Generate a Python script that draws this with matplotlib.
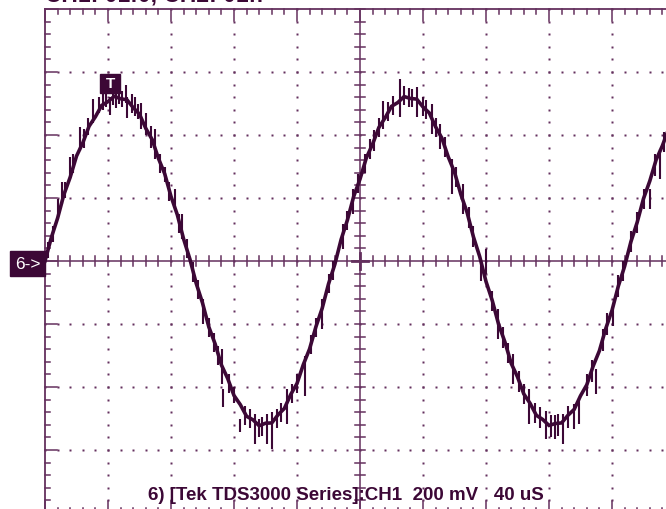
import matplotlib
matplotlib.use("Agg")
from matplotlib import pyplot as plt
from matplotlib.patches import Rectangle
import numpy as np

# scope settings
volts_per_div = 200.0   # mV
time_per_div = 40.0     # uS
sample_step = 4.0       # uS between samples

# trace values (mV), one every 4 uS starting at the left edge of the graticule
trace_mv = [
    0, 74, 136, 211, 266, 333, 375, 428, 458, 494,
    506, 523, 515, 512, 487, 466, 421, 386, 326, 277,
    205, 147, 70, 6, -71, -133, -209, -263, -330, -373,
    -427, -456, -493, -504, -523, -515, -514, -488, -468, -424,
    -389, -329, -279, -209, -150, -73, -11, 68, 130, 205,
    260, 327, 371, 424, 455, 491, 503, 522, 516, 514,
    489, 470, 426, 390, 331, 282, 212, 154, 77, 14,
    -65, -126, -201, -257, -325, -368, -422, -452, -490, -503,
    -522, -516, -514, -490, -471, -428, -393, -334, -285, -215,
    -157, -80, -17, 61, 123, 198, 254, 321, 366, 420,
]

# noise spikes seen on the trace: time (uS), low and high (mV)
spike_t = [8.3, 10.8, 15.9, 22.2, 30.5, 41.3, 51.4, 52.1, 61.0, 69.9, 82.6, 87.0,
           94.0, 100.3, 112.4, 113.0, 123.8, 133.4, 141.0, 144.0, 153.7, 165.0, 176.0,
           189.2, 195.6, 206.4, 214.6, 225.4, 236.2, 245.7, 250.8, 258.4, 265.4, 280.0,
           276.9, 287.7, 297.2, 307.3, 318.1, 329.0, 336.0, 339.0, 350.0, 360.7,
           384.0, 390.5,
           2, 5, 13, 18, 25, 27, 34, 37, 39, 43, 45, 47, 49, 55, 57, 59,
           64, 67, 73, 76, 79, 85, 90,
           97, 104, 107, 110, 117, 120, 127, 130, 136, 138,
           147, 150, 157, 160, 169, 172, 180, 183,
           192, 199, 203, 209, 212, 218, 221, 228, 231, 233,
           240, 242, 248, 254, 261, 269, 272,
           284, 291, 294, 301, 304, 311, 314, 321, 324, 326, 332, 344, 347, 354, 357,
           364, 367, 372, 376, 380, 387, 393]
spike_lo = [140, 181, 260, 349, 438, 464, 502, 454, 419, 324, 171, 70,
            -67, -200, -391, -464, -543, -581, -581, -597, -517, -429, -216,
            38, 149, 324, 419, 457, 457, 403, 356, 213, 149, -41,
            -63, -248, -391, -517, -565, -581, -533, -518, -422, -206,
            165, 260,
            10, 60, 200, 280, 360, 400, 470, 480, 490, 495, 485, 500, 490, 470, 460, 450,
            400, 360, 280, 250, 190, 90, 10,
            -120, -240, -290, -330, -420, -450, -520, -530, -560, -555,
            -530, -510, -450, -420, -295, -240, -100, -60,
            100, 215, 280, 350, 395, 445, 465, 495, 490, 490,
            460, 450, 395, 330, 235, 105, 45,
            -160, -275, -325, -415, -455, -515, -530, -560, -565, -555, -530, -430, -385,
            -285, -235, -115, -65, 30, 90, 165, 270, 345]
spike_hi = [197, 251, 330, 425, 514, 521, 559, 521, 502, 419, 229, 149,
            -3, -121, -279, -406, -502, -486, -486, -479, -406, -302, -121,
            117, 229, 387, 508, 578, 552, 498, 435, 324, 244, 38,
            -10, -152, -295, -406, -476, -486, -454, -438, -343, -152,
            229, 356,
            60, 110, 250, 340, 420, 455, 520, 530, 545, 540, 550, 545, 540, 530, 520, 500,
            470, 430, 340, 300, 250, 150, 70,
            -60, -180, -230, -270, -360, -400, -460, -470, -500, -495,
            -470, -450, -390, -360, -235, -180, -40, 0,
            160, 275, 340, 415, 455, 505, 525, 555, 550, 545,
            520, 510, 455, 395, 300, 170, 110,
            -95, -210, -260, -350, -390, -450, -465, -490, -490, -485, -460, -360, -315,
            -215, -165, -45, 0, 95, 155, 230, 340, 410]

top_label = "CH1: 01f0, CH2: 01ff"
bottom_label = "6) [Tek TDS3000 Series]:CH1  200 mV   40 uS"

grid_c = "#64305e"
trace_c = "#3c0836"

fig = plt.figure(figsize=(6.66, 5.10), dpi=100)
ax = fig.add_axes([0, 0, 1, 1])
ax.set_xlim(-45 / 63, 621 / 63)
ax.set_ylim(-248 / 63, 262 / 63)
ax.axis("off")

minor = np.arange(0, 10.01, 0.2)
minor_y = np.arange(-4, 4.01, 0.2)
small, big = 0.08, 0.19

# border lines
ax.plot([0, 0], [-4, 4], color=grid_c, lw=1.3)
ax.plot([0, 10], [4, 4], color=grid_c, lw=1.3)
ax.plot([0, 10], [-4, -4], color=grid_c, lw=1.3)

# ticks on top / bottom border
for x in minor:
    L = big if abs(x - round(x)) < 1e-6 else small
    ax.plot([x, x], [4, 4 - L], color=grid_c, lw=1.1)
    ax.plot([x, x], [-4, -4 + L], color=grid_c, lw=1.1)
# ticks on left border
for y in minor_y:
    L = big if abs(y - round(y)) < 1e-6 else small
    ax.plot([0, L], [y, y], color=grid_c, lw=1.1)

# dotted division lines
for d in range(1, 10):
    if d == 5:
        continue
    ax.plot(np.full(len(minor_y), d), minor_y, ls="none", marker="s", ms=1.6,
            mec="none", color=grid_c)
for d in range(-3, 4):
    if d == 0:
        continue
    ax.plot(minor, np.full(len(minor), d), ls="none", marker="s", ms=1.6,
            mec="none", color=grid_c)

# centre axes with cross ticks
ax.plot([5, 5], [-4, 4], color=grid_c, lw=1.1)
ax.plot([0, 10], [0, 0], color=grid_c, lw=1.1)
for x in minor:
    ax.plot([x, x], [-small, small], color=grid_c, lw=1.1)
for y in minor_y:
    ax.plot([5 - small, 5 + small], [y, y], color=grid_c, lw=1.1)
ax.plot([5 - 0.13, 5 + 0.13], [0, 0], color=grid_c, lw=2)
ax.plot([5, 5], [-0.13, 0.13], color=grid_c, lw=2)

# waveform
t = np.arange(len(trace_mv)) * sample_step
ax.plot(t / time_per_div, np.array(trace_mv) / volts_per_div, color=trace_c, lw=2.6,
        solid_joinstyle="miter")
ax.vlines(np.array(spike_t) / time_per_div, np.array(spike_lo) / volts_per_div,
          np.array(spike_hi) / volts_per_div, color=trace_c, lw=1.5)

# markers
ax.add_patch(Rectangle((-35 / 63, -15 / 63), 35 / 63, 25 / 63, color=trace_c, zorder=5))
ax.text(-17.5 / 63, -2.5 / 63, "6->", color="white", fontsize=12.5,
        family="Liberation Sans", ha="center", va="center", zorder=6)
ax.add_patch(Rectangle((55 / 63, 168 / 63), 20 / 63, 19 / 63, color=trace_c, zorder=5))
ax.text(65 / 63, 177.5 / 63, "T", color="white", fontsize=11, fontweight="bold",
        family="Liberation Sans", ha="center", va="center", zorder=6)

ax.text(1.635, (262 - 500) / 63, bottom_label, color=trace_c, fontsize=13.5,
        fontweight="bold", family="Liberation Sans", ha="left", va="baseline")
ax.text(0, (262 - 1.5) / 63, top_label, color=trace_c, fontsize=16.5, fontweight="bold",
        family="Liberation Sans", ha="left", va="baseline")

fig.savefig("out.png", dpi=100)
